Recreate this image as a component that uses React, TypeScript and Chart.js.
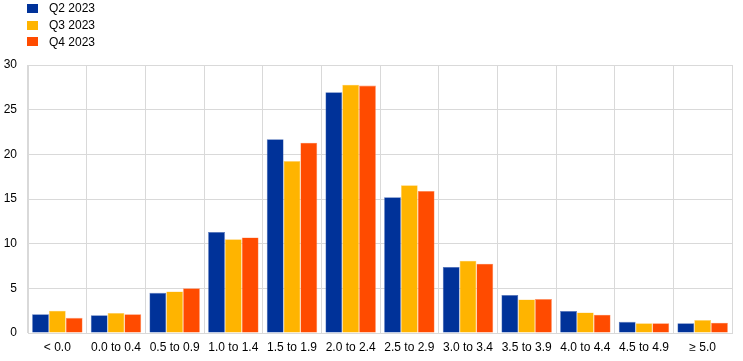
import React, { useEffect, useRef } from "react";
import { Chart, registerables } from "chart.js";

Chart.register(...registerables);

const categories = ["< 0.0", "0.0 to 0.4", "0.5 to 0.9", "1.0 to 1.4", "1.5 to 1.9", "2.0 to 2.4", "2.5 to 2.9", "3.0 to 3.4", "3.5 to 3.9", "4.0 to 4.4", "4.5 to 4.9", "≥ 5.0"];
const q2_2023 = [2.1, 2.0, 4.5, 11.3, 21.7, 26.95, 15.2, 7.4, 4.25, 2.45, 1.25, 1.1];
const q3_2023 = [2.5, 2.25, 4.65, 10.5, 19.25, 27.8, 16.55, 8.1, 3.75, 2.3, 1.1, 1.45];
const q4_2023 = [1.7, 2.1, 5.0, 10.7, 21.3, 27.7, 15.9, 7.75, 3.8, 2.05, 1.1, 1.15];
const seriesNames = ["Q2 2023", "Q3 2023", "Q4 2023"];
const seriesColors = ["#003299", "#FFB400", "#FF4B00"];
const seriesBorders = ["#4d6fb8", "#ffd066", "#ff8a5c"];

const FONT = "'Liberation Sans', Arial, sans-serif";

export default function App() {
  const ref = useRef<HTMLCanvasElement | null>(null);
  useEffect(() => {
    if (!ref.current) return;
    const values = [q2_2023, q3_2023, q4_2023];
    const chart = new Chart(ref.current, {
      type: "bar",
      data: {
        labels: categories,
        datasets: values.map((v, i) => ({
          label: seriesNames[i],
          data: v,
          backgroundColor: seriesColors[i],
          borderColor: seriesBorders[i],
          borderWidth: 0.6,
          categoryPercentage: 0.86,
          barPercentage: 1.0,
        })),
      },
      options: {
        animation: false,
        responsive: false,
        maintainAspectRatio: false,
        layout: { padding: { top: 65, right: 11, left: 0, bottom: 0 } },
        plugins: { legend: { display: false }, tooltip: { enabled: false } },
        scales: {
          x: {
            offset: true,
            grid: { offset: true, color: "#d9d9d9", lineWidth: 1, drawTicks: false },
            border: { color: "#d9d9d9" },
            ticks: { color: "#000", font: { family: FONT, size: 12 }, padding: 7, maxRotation: 0, autoSkip: false },
            afterFit: (s: any) => { s.height = 28; },
          },
          y: {
            min: 0,
            max: 30,
            grid: { color: "#d9d9d9", lineWidth: 1, drawTicks: false },
            border: { color: "#d9d9d9" },
            ticks: { stepSize: 5, color: "#000", font: { family: FONT, size: 12 }, padding: 11 },
            afterFit: (s: any) => { s.width = 28; },
          },
        },
      },
    });
    return () => chart.destroy();
  }, []);
  return (
    <div style={{ position: "fixed", left: 0, top: 0, width: 743, height: 361, background: "#fff" }}>
      <canvas ref={ref} width={743} height={361} style={{ position: "absolute", left: 0, top: 0 }} />
      <div style={{ position: "absolute", left: 27, top: 0, fontFamily: FONT, fontSize: 12, color: "#000" }}>
        {seriesNames.map((n, i) => (
          <div key={n} style={{ display: "flex", alignItems: "center", height: 16.7, marginTop: i === 0 ? 0 : 0 }}>
            <span style={{ display: "inline-block", width: 11, height: 9, background: seriesColors[i], marginRight: 11 }} />
            <span>{n}</span>
          </div>
        ))}
      </div>
    </div>
  );
}
